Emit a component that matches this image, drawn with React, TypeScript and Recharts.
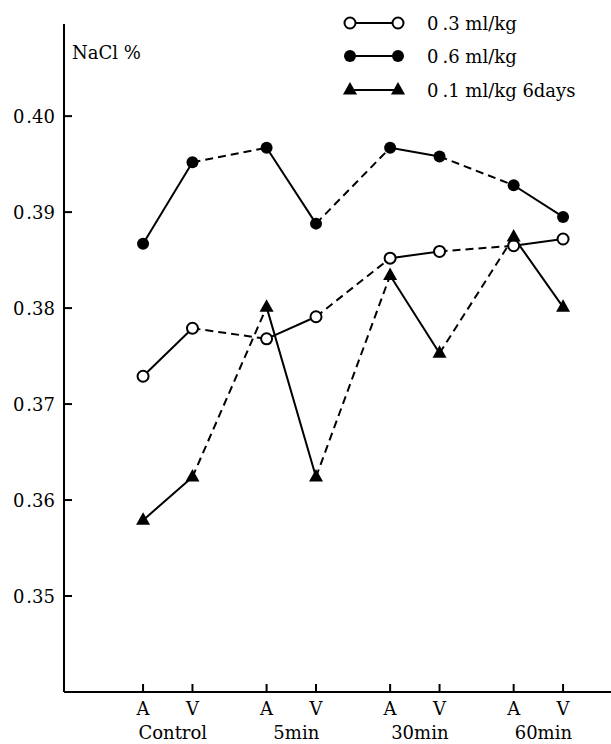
import React from 'react';
import { LineChart, Line, XAxis, YAxis, Legend } from 'recharts';

// ---- data ----
const groups = ['Control', '5min', '30min', '60min'];
const sites = ['A', 'V'];
const yTicks = [0.35, 0.36, 0.37, 0.38, 0.39, 0.4];
const seriesNames = ['0.3 ml/kg', '0.6 ml/kg', '0.1 ml/kg 6days'];
// order: Control A, Control V, 5min A, 5min V, 30min A, 30min V, 60min A, 60min V
const dose03 = [0.3729, 0.3779, 0.3768, 0.3791, 0.3852, 0.3859, 0.3865, 0.3872];
const dose06 = [0.3867, 0.3952, 0.3967, 0.3888, 0.3967, 0.3958, 0.3928, 0.3895];
const dose01x6 = [0.3579, 0.3624, 0.3801, 0.3624, 0.3834, 0.3753, 0.3874, 0.3801];

const FONT = "'DejaVu Serif', 'Liberation Serif', serif";
const TXT: React.CSSProperties = { fontFamily: FONT, fontSize: 18 };
const GROUP_STEP = 2.5;
const xOf = (i: number) => Math.floor(i / 2) * GROUP_STEP + (i % 2);
const siteTicks = dose03.map((_, i) => xOf(i));
const groupTicks = groups.map((_, g) => g * GROUP_STEP + 0.5);
const X_DOMAIN: [number, number] = [-1.6, 9.47];
const Y_DOMAIN: [number, number] = [0.34, 0.4096];

type Pt = { x: number; y: number | null };

function solidData(vals: number[]): Pt[] {
  const out: Pt[] = [];
  for (let g = 0; g < groups.length; g++) {
    out.push({ x: xOf(2 * g), y: vals[2 * g] });
    out.push({ x: xOf(2 * g + 1), y: vals[2 * g + 1] });
    if (g < groups.length - 1) out.push({ x: xOf(2 * g + 1) + 0.5, y: null });
  }
  return out;
}

function dashedData(vals: number[]): Pt[] {
  const out: Pt[] = [];
  for (let g = 0; g < groups.length - 1; g++) {
    out.push({ x: xOf(2 * g + 1), y: vals[2 * g + 1] });
    out.push({ x: xOf(2 * g + 2), y: vals[2 * g + 2] });
    if (g < groups.length - 2) out.push({ x: xOf(2 * g + 2) + 0.5, y: null });
  }
  return out;
}

type Kind = 'open' | 'filled' | 'tri';

function Marker({ kind, cx, cy }: { kind: Kind; cx: number; cy: number }) {
  if (kind === 'open')
    return <circle cx={cx} cy={cy} r={5.5} fill="#fff" stroke="#000" strokeWidth={2} />;
  if (kind === 'filled') return <circle cx={cx} cy={cy} r={6} fill="#000" stroke="none" />;
  return (
    <polygon
      points={`${cx},${cy - 8} ${cx - 7},${cy + 4.5} ${cx + 7},${cy + 4.5}`}
      fill="#000"
      stroke="none"
    />
  );
}

const makeDot = (kind: Kind) => (p: any) => {
  if (p == null || p.cy == null || p.value == null || (Array.isArray(p.value) && p.value[1] == null)) {
    return <g key={`${kind}-n-${p?.index}`} />;
  }
  return (
    <g key={`${kind}-${p.index}`}>
      <Marker kind={kind} cx={p.cx} cy={p.cy} />
    </g>
  );
};

const YTick = (props: any) => {
  const { x, y, payload } = props;
  const s = Number(payload.value).toFixed(2);
  return (
    <g>
      <line x1={x} x2={x + 8} y1={y} y2={y} stroke="#000" strokeWidth={2} />
      <text x={x - 9} y={y} textAnchor="end" dominantBaseline="central" style={TXT} fill="#000">
        {s.slice(0, 1)}
        <tspan dx={2}>{s.slice(1)}</tspan>
      </text>
    </g>
  );
};

const SiteTick = (props: any) => {
  const { x, y, payload } = props;
  const i = siteTicks.indexOf(payload.value);
  return (
    <g>
      <line x1={x} x2={x} y1={y} y2={y - 8} stroke="#000" strokeWidth={2} />
      <text x={x} y={y + 16} textAnchor="middle" dominantBaseline="central" style={TXT} fill="#000">
        {sites[i % 2]}
      </text>
    </g>
  );
};

const GroupTick = (props: any) => {
  const { x, y, payload } = props;
  const g = groupTicks.indexOf(payload.value);
  return (
    <text x={x + 5} y={y + 16} textAnchor="middle" dominantBaseline="central" style={TXT} fill="#000">
      {groups[g]}
    </text>
  );
};

const NaClLabel = (props: any) => {
  const vb = props.viewBox || { x: 0, y: 24, width: 64 };
  return (
    <text x={vb.x + vb.width + 8} y={vb.y + 28} dominantBaseline="central" style={TXT} fill="#000">
      NaCl %
    </text>
  );
};

const legendKinds: Kind[] = ['open', 'filled', 'tri'];

const LegendContent = () => (
  <svg width={281} height={110} style={{ display: 'block' }}>
    {seriesNames.map((name, i) => {
      const cy = [23, 56, 90][i];
      return (
        <g key={name}>
          <line x1={20} x2={68} y1={cy} y2={cy} stroke="#000" strokeWidth={2} />
          <Marker kind={legendKinds[i]} cx={20} cy={cy} />
          <Marker kind={legendKinds[i]} cx={68} cy={cy} />
          <text x={97} y={cy} dominantBaseline="central" style={TXT} fill="#000">
            {name.slice(0, 1)}
            <tspan dx={4}>{name.slice(1)}</tspan>
          </text>
        </g>
      );
    })}
  </svg>
);

const allSeries: { vals: number[]; kind: Kind }[] = [
  { vals: dose03, kind: 'open' },
  { vals: dose06, kind: 'filled' },
  { vals: dose01x6, kind: 'tri' },
];

export default function App() {
  return (
    <div style={{ position: 'absolute', left: 0, top: 0, width: 611, height: 744, background: '#fff' }}>
      <LineChart width={611} height={744} margin={{ top: 24, right: 0, bottom: 0, left: 0 }}>
        <XAxis
          xAxisId="a"
          type="number"
          dataKey="x"
          domain={X_DOMAIN}
          allowDataOverflow
          ticks={siteTicks}
          interval={0}
          height={24}
          axisLine={{ stroke: '#000', strokeWidth: 2 }}
          tickLine={false}
          tickSize={0}
          tickMargin={0}
          tick={<SiteTick />}
        />
        <XAxis
          xAxisId="b"
          type="number"
          dataKey="x"
          domain={X_DOMAIN}
          allowDataOverflow
          ticks={groupTicks}
          interval={0}
          height={28}
          axisLine={false}
          tickLine={false}
          tickSize={0}
          tickMargin={0}
          tick={<GroupTick />}
        />
        <YAxis
          type="number"
          domain={Y_DOMAIN}
          allowDataOverflow
          ticks={yTicks}
          interval={0}
          width={64}
          axisLine={{ stroke: '#000', strokeWidth: 2 }}
          tickLine={false}
          tickSize={0}
          tickMargin={0}
          tick={<YTick />}
          label={{ content: <NaClLabel /> }}
        />
        <Legend
          layout="vertical"
          align="center"
          verticalAlign="middle"
          content={<LegendContent />}
          wrapperStyle={{ position: 'absolute', left: 330, top: 0, width: 281, height: 110 }}
        />
        {allSeries.map((s) => (
          <Line
            key={`d-${s.kind}`}
            xAxisId="a"
            data={dashedData(s.vals)}
            dataKey="y"
            stroke="#000"
            strokeWidth={2}
            strokeDasharray="8 5"
            dot={false}
            activeDot={false}
            isAnimationActive={false}
            legendType="none"
          />
        ))}
        {allSeries.map((s) => (
          <Line
            key={`s-${s.kind}`}
            xAxisId="a"
            data={solidData(s.vals)}
            dataKey="y"
            stroke="#000"
            strokeWidth={2}
            dot={makeDot(s.kind)}
            activeDot={false}
            isAnimationActive={false}
            legendType="none"
          />
        ))}
      </LineChart>
    </div>
  );
}
